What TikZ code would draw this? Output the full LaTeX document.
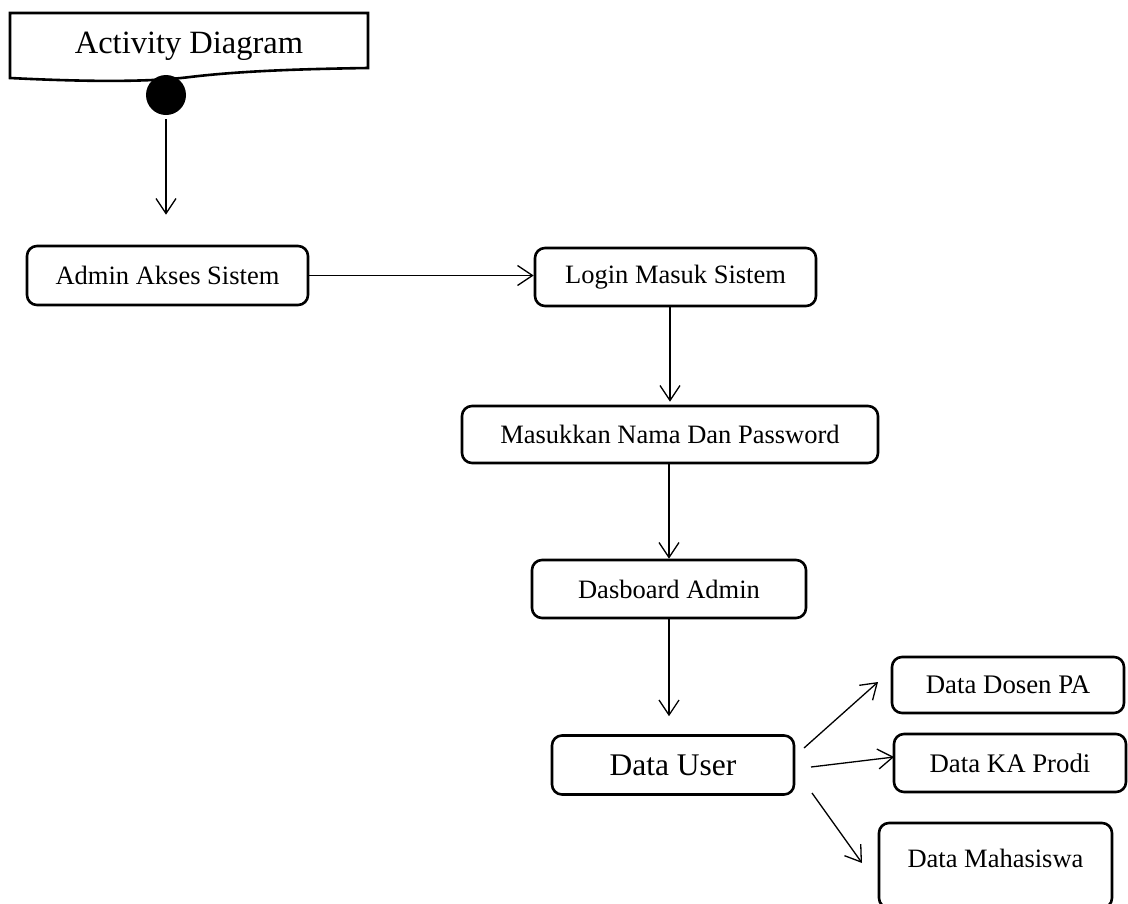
\documentclass[tikz,border=0pt]{standalone}
\usepackage{fontspec}
\setmainfont{Liberation Serif}
\usetikzlibrary{arrows.meta}
\begin{document}
\begin{tikzpicture}[x=1pt,y=-1pt,
  box/.style={draw, line width=2.6pt, rounded corners=10pt, inner sep=0pt,
    font=\fontsize{26.5}{30}\selectfont},
  smallbox/.style={box, font=\fontsize{26.8}{30}\selectfont},
  lbl/.style={inner sep=0pt, font=\fontsize{26.5}{30}\selectfont},
  arr/.style={line width=1.3pt, -{Straight Barb[length=15pt,width=20pt,line width=1.3pt]}}]
\useasboundingbox (0,0) rectangle (1128,903);
\clip (0,0) rectangle (1128,903);

% title frame with wavy bottom
\draw[line width=2.6pt, line join=miter] (10,13) -- (368,13) -- (368,68)
  .. controls (300,69) and (240,71) .. (190,77)
  .. controls (150,82) and (90,82) .. (10,78) -- cycle;
\node[inner sep=0pt, font=\fontsize{32.5}{38}\selectfont] (title) at (189,46) {Activity Diagram};

% start node
\node[circle, fill=black, minimum size=40pt, inner sep=0pt] (start) at (166,95) {};

% activities
\node[box, minimum width=281pt, minimum height=59pt] (admin) at (167.5,275.5) {Admin Akses Sistem};
\node[box, minimum width=281pt, minimum height=58pt] (login) at (675.5,277) {Login Masuk Sistem};
\node[box, minimum width=416pt, minimum height=57pt] (masuk) at (670,434.5) {Masukkan Nama Dan Password};
\node[box, minimum width=274pt, minimum height=58pt] (dash) at (669,589) {Dasboard Admin};
\node[box, minimum width=242pt, minimum height=59pt, font=\fontsize{31.5}{36}\selectfont] (user) at (673,765) {Data User};
\node[smallbox, minimum width=232pt, minimum height=56pt] (dosen) at (1008,685) {Data Dosen PA};
\node[smallbox, minimum width=232pt, minimum height=58pt] (kaprodi) at (1010,763) {Data KA Prodi};
\node[smallbox, minimum width=233pt, minimum height=85pt] (mhs) at (995.5,865.5) {};
\node[lbl] (mhstext) at (995.5,858) {Data Mahasiswa};

% free ends of the branching connectors
\coordinate (u1) at (804,748);
\coordinate (d1) at (878,682);
\coordinate (u2) at (811,767);
\coordinate (k2) at (894,757);
\coordinate (u3) at (812,793);
\coordinate (m3) at (862,863);

% connectors
\draw[arr, shorten <=4pt, shorten >=30pt] (start.south) -- (start.south |- admin.north);
\draw[arr] (admin.east) -- (admin.east -| login.west);
\draw[arr, shorten >=3pt] (masuk.north |- login.south) -- (masuk.north);
\draw[arr] (dash.north |- masuk.south) -- (dash.north);
\draw[arr, shorten >=18pt] (dash.south) -- (dash.south |- user.north);
\draw[arr] (u1) -- (d1);
\draw[arr] (u2) -- (k2);
\draw[arr] (u3) -- (m3);
\end{tikzpicture}
\end{document}
